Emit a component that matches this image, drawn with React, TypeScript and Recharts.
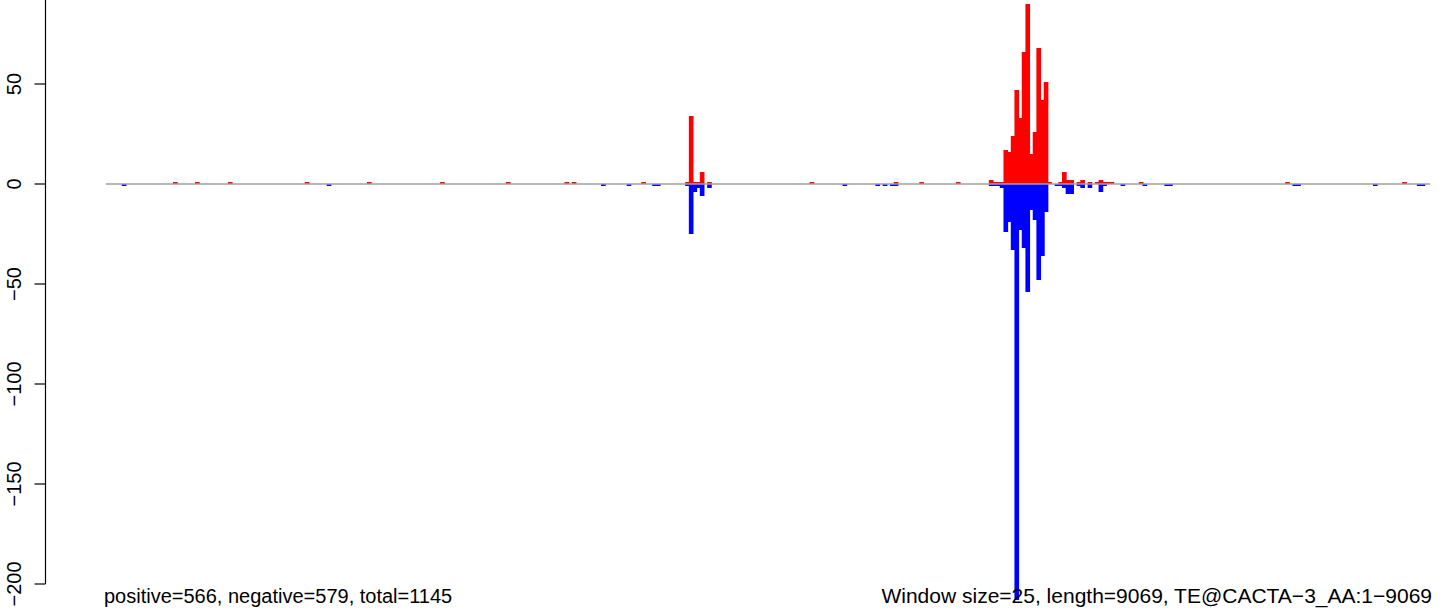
import { BarChart, Bar, XAxis, YAxis, ReferenceLine } from "recharts";

// 9069 bp in windows of 25 -> 363 bins
const BIN_COUNT = 363;
const positiveHits: [number, number][] = [
  [19, 1], [25, 1], [34, 1], [55, 1], [72, 1], [92, 1], [110, 1], [126, 1], [128, 1], [147, 1],
  [159, 1], [160, 34], [161, 1], [162, 1], [163, 6], [165, 1],
  [193, 1], [216, 1], [223, 1], [233, 1],
  [242, 2], [243, 1], [244, 1], [245, 1], [246, 17], [247, 16], [248, 24], [249, 47], [250, 33],
  [251, 66], [252, 90], [253, 15], [254, 26], [255, 68], [256, 42], [257, 51],
  [258, 1], [261, 1], [262, 6], [263, 2], [264, 2], [266, 1], [267, 2], [269, 1], [271, 1],
  [272, 2], [273, 1], [274, 1], [275, 1],
  [283, 1], [323, 1], [355, 1],
];
const negativeHits: [number, number][] = [
  [5, 1], [61, 1], [136, 1], [143, 1], [150, 1], [151, 1],
  [159, 1], [160, 25], [161, 4], [162, 2], [163, 6], [165, 2],
  [202, 1], [211, 1], [213, 1], [215, 1], [216, 1],
  [242, 1], [243, 1], [244, 1], [245, 2], [246, 24], [247, 19], [248, 33], [249, 208], [250, 23],
  [251, 32], [252, 54], [253, 13], [254, 18], [255, 48], [256, 36], [257, 14],
  [260, 1], [261, 1], [262, 2], [263, 5], [264, 5], [266, 1], [267, 2], [269, 2], [272, 4], [273, 1],
  [278, 1], [284, 1], [290, 1], [291, 1], [325, 1], [326, 1], [347, 1], [359, 1], [360, 1],
];
const yTicks = [50, 0, -50, -100, -150, -200];
const yDomain: [number, number] = [-214.5, 92];
const leftNote = "positive=566, negative=579, total=1145";
const rightNote = "Window size=25, length=9069, TE@CACTA\u22123_AA:1\u22129069";

const W = 1444;
const H = 613;
const AXIS_W = 45;
const PLOT_LEFT = 104;
const PLOT_RIGHT = 1432;
const FONT = "'Liberation Sans', Arial, Helvetica, sans-serif";
const PX_PER_UNIT = H / (yDomain[1] - yDomain[0]);
const BAR_W = (PLOT_RIGHT - PLOT_LEFT) / BIN_COUNT;

const pos: Record<number, number> = Object.fromEntries(positiveHits);
const neg: Record<number, number> = Object.fromEntries(negativeHits);
const data = Array.from({ length: BIN_COUNT }, (_, i) => ({
  bin: i,
  plus: pos[i] || 0,
  minus: -(neg[i] || 0),
}));

const fmt = (v: number) => (v < 0 ? "\u2212" + Math.abs(v) : String(v));

function YTick(props: any) {
  const { y, payload } = props;
  const ax = AXIS_W + 0.5;
  const step = 50 * PX_PER_UNIT;
  return (
    <g>
      <line x1={ax} y1={y} x2={ax} y2={y - step} stroke="#000" strokeWidth={1.2} />
      <line x1={ax} y1={y} x2={ax - 11} y2={y} stroke="#000" strokeWidth={1.2} />
      <text x={21} y={y} transform={`rotate(-90 21 ${y})`} textAnchor="middle" fontSize={20} fontFamily={FONT} fill="#000">
        {fmt(payload.value)}
      </text>
    </g>
  );
}

// solid rect filling the whole bin, so adjacent windows touch like in R's rect()
const binRect = (color: string) => (props: any) => {
  const { x, y, width, height } = props;
  if (!height) return <g />;
  const top = Math.min(y, y + height);
  const w = Math.max(width, BAR_W) + 1;
  return <rect x={x - 0.5} y={top} width={w} height={Math.abs(height)} fill={color} />;
};

export default function App() {
  return (
    <div style={{ position: "relative", width: W, height: H, background: "#fff" }}>
      <style>{"body{margin:0}"}</style>
      <BarChart
        width={W}
        height={H}
        data={data}
        stackOffset="sign"
        barCategoryGap={0}
        barGap={0}
        margin={{ top: 0, right: W - PLOT_RIGHT, bottom: 0, left: 0 }}
      >
        <XAxis dataKey="bin" type="category" hide padding={{ left: PLOT_LEFT - AXIS_W, right: 0 }} />
        <YAxis
          width={AXIS_W}
          domain={yDomain}
          allowDataOverflow
          ticks={yTicks}
          interval={0}
          axisLine={false}
          tickLine={false}
          tick={<YTick />}
        />
        <ReferenceLine
          segment={[{ x: 0, y: 0 }, { x: BIN_COUNT - 1, y: 0 }]}
          stroke="#a0a0a0"
          strokeWidth={1.5}
        />
        <Bar dataKey="plus" stackId="s" fill="#ff0000" barSize={BAR_W} shape={binRect("#ff0000")} isAnimationActive={false} />
        <Bar dataKey="minus" stackId="s" fill="#0000ff" barSize={BAR_W} shape={binRect("#0000ff")} isAnimationActive={false} />
      </BarChart>
      <div style={{ position: "absolute", left: PLOT_LEFT, top: 586, fontFamily: FONT, fontSize: 20, lineHeight: "20px", whiteSpace: "nowrap" }}>
        {leftNote}
      </div>
      <div style={{ position: "absolute", right: W - PLOT_RIGHT, top: 585, fontFamily: FONT, fontSize: 21, lineHeight: "21px", whiteSpace: "nowrap" }}>
        {rightNote}
      </div>
    </div>
  );
}
